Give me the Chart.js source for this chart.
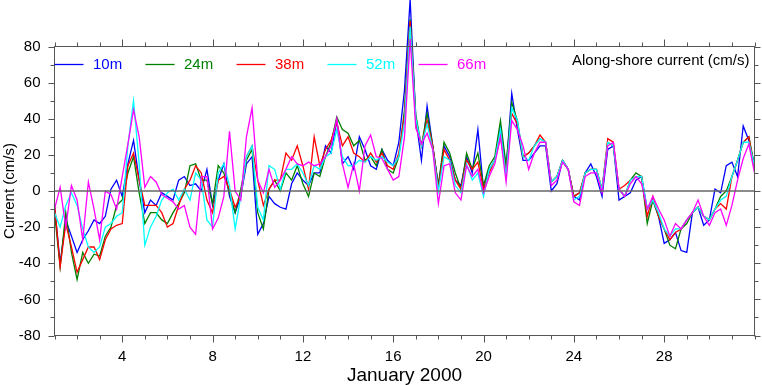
<!DOCTYPE html>
<html><head><meta charset="utf-8">
<script src="https://cdn.jsdelivr.net/npm/chart.js@4.4.1/dist/chart.umd.min.js"></script>
<style>html,body{margin:0;padding:0;background:#fff;overflow:hidden}</style>
</head><body>
<canvas id="c" width="762" height="385" style="display:block;width:762px;height:385px"></canvas>
<script>
// time axis: day of January 2000, every 6 hours
const days = [
 1,1.25,1.5,1.75, 2,2.25,2.5,2.75, 3,3.25,3.5,3.75, 4,4.25,4.5,4.75, 5,5.25,5.5,5.75,
 6,6.25,6.5,6.75, 7,7.25,7.5,7.75, 8,8.25,8.5,8.75, 9,9.25,9.5,9.75, 10,10.25,10.5,10.75,
 11,11.25,11.5,11.75, 12,12.25,12.5,12.75, 13,13.25,13.5,13.75, 14,14.25,14.5,14.75, 15,15.25,15.5,15.75,
 16,16.25,16.5,16.75, 17,17.25,17.5,17.75, 18,18.25,18.5,18.75, 19,19.25,19.5,19.75, 20,20.25,20.5,20.75,
 21,21.25,21.5,21.75, 22,22.25,22.5,22.75, 23,23.25,23.5,23.75, 24,24.25,24.5,24.75, 25,25.25,25.5,25.75,
 26,26.25,26.5,26.75, 27,27.25,27.5,27.75, 28,28.25,28.5,28.75, 29,29.25,29.5,29.75, 30,30.25,30.5,30.75,
 31,31.25,31.5,31.75, 32];

const cur10 = [
 -8,-40,-16,-25, -34,-27,-22,-16, -18,-14,1,6, -3,15,28,6, -12,-5,-8,-1,
 -3,-5,6,8, 3,4,0,12, -8,6,15,-3, -12,-3,15,19, -24,-18,-3,-7,
 -9,-10,4,10, 6,3,10,10, 25,21,39,15, 19,12,30,23, 14,12,23,17,
 14,27,56,106, 40,17,47,25, 3,25,19,6, 3,19,10,34, 1,12,17,36,
 12,54,34,17, 17,21,25,25, 0,4,17,12, -3,-5,10,15, 8,-3,23,25,
 -5,-3,-1,6, 8,-10,-5,-14, -29,-27,-23,-33, -34,-12,-9,-19, -16,1,-1,14,
 16,8,36,28, 14];
const cur24 = [
 -12,-42,-12,-34, -49,-34,-40,-35, -36,-25,-20,-8, -5,10,19,-1, -18,-12,-12,-16,
 -18,-12,-7,-1, 14,15,6,6, -7,14,10,-1, -12,1,17,23, -12,-21,1,6,
 0,10,6,14, 4,-3,10,8, 19,27,41,34, 32,25,28,17, 19,14,23,12,
 10,19,45,95, 42,25,43,25, 3,27,21,10, 1,21,12,21, 3,14,19,39,
 14,49,39,19, 21,25,29,27, 5,8,17,12, -3,-1,10,12, 12,1,27,25,
 1,-3,6,10, 8,-18,-5,-14, -21,-30,-32,-21, -18,-12,-9,-14, -16,-10,-3,0,
 8,17,27,30, 14];
const cur38 = [
 -7,-42,-18,-31, -45,-38,-31,-31, -38,-27,-21,-19, -18,14,21,6, -8,-8,-8,-12,
 -20,-18,-8,1, 6,14,10,-5, -12,6,8,1, -9,-3,19,25, 6,-8,1,6,
 6,21,17,25, 14,1,30,14, 23,28,38,25, 30,21,19,16, 21,16,21,14,
 12,21,42,94, 38,25,39,25, 1,23,17,6, 1,17,12,16, 1,10,17,30,
 10,43,37,19, 21,25,31,27, 5,8,17,12, -3,-1,10,12, 12,1,29,27,
 1,3,6,8, 8,-14,-3,-14, -21,-27,-23,-21, -16,-12,-9,-14, -16,-10,-7,-10,
 8,17,27,30, 12];
const cur52 = [
 -12,-20,-8,-1, -8,-21,-31,-34, -31,-20,-18,-14, -12,25,50,15, -30,-20,-14,-5,
 -1,1,-5,1, -5,10,6,-16, -20,10,15,3, -21,-3,19,25, -9,-16,14,12,
 1,12,12,15, 10,3,14,12, 19,21,34,19, 14,14,17,16, 19,17,19,16,
 14,19,38,91, 40,25,37,23, 0,19,17,3, -1,15,6,10, -3,12,17,34,
 8,46,39,19, 17,25,29,27, 5,8,17,12, -5,-3,10,12, 12,1,27,25,
 1,-3,6,8, 8,-10,-5,-12, -21,-25,-21,-21, -16,-12,-9,-14, -16,-10,-5,-3,
 8,17,27,27, 14];
const cur66 = [
 -10,2,-20,3, -5,-27,5,-10, -27,0,-2,-10, 8,26,45,30, 2,8,5,-2,
 -4,-6,-10,-8, -20,-24,8,8, -21,-15,-3,33, 0,-5,30,46, 6,-1,12,2,
 6,12,19,15, 14,16,14,15, 19,25,40,15, 2,15,0,25, 31,19,18,12,
 6,8,30,84, 35,26,32,23, -7,14,15,-1, -5,14,8,12, -1,8,15,30,
 5,39,34,25, 12,21,27,27, 3,6,16,12, -6,-8,8,10, 10,-1,25,27,
 1,-3,4,8, 4,-10,-3,-10, -16,-25,-18,-21, -16,-12,-5,-14, -19,-12,-10,-19,
 -8,6,18,26, 10];

const seriesNames = ['10m','24m','38m','52m','66m'];
const seriesColors = ['#0000ff','#008000','#ff0000','#00ffff','#ff00ff'];
const seriesValues = [cur10, cur24, cur38, cur52, cur66];
const xTickValues = [4,8,12,16,20,24,28];
const xMinorTicks = [1,2,3,4,5,6,7,8,9,10,11,12,13,14,15,16,17,18,19,20,21,22,23,24,25,26,27,28,29,30,31,32];
const yTickValues = [-80,-60,-40,-20,0,20,40,60,80];
const yMinorTicks = [-80,-70,-60,-50,-40,-30,-20,-10,0,10,20,30,40,50,60,70,80];
const chartTitle = 'Along-shore current (cm/s)';
const xTitle = 'January 2000';
const yTitle = 'Current (cm/s)';

const FONT = 'Liberation Sans, Arial, Helvetica, sans-serif';

const framePlugin = {
  id: 'frame',
  afterDatasetsDraw(chart) {
    const {ctx, chartArea: a, scales: {x, y}} = chart;
    ctx.save();
    // zero line
    const y0 = y.getPixelForValue(0);
    ctx.strokeStyle = '#666'; ctx.lineWidth = 1.6;
    ctx.beginPath(); ctx.moveTo(a.left, y0); ctx.lineTo(a.right, y0); ctx.stroke();
    // frame
    ctx.strokeStyle = '#555'; ctx.lineWidth = 1;
    ctx.strokeRect(a.left, a.top, a.right - a.left, a.bottom - a.top);
    // x ticks (top & bottom, outward)
    ctx.beginPath();
    xMinorTicks.forEach(d => {
      const px = Math.round(x.getPixelForValue(d)) + 0.5;
      const L = xTickValues.includes(d) ? 7 : 4;
      ctx.moveTo(px, a.bottom); ctx.lineTo(px, a.bottom + L);
      ctx.moveTo(px, a.top); ctx.lineTo(px, a.top - L);
    });
    yMinorTicks.forEach(v => {
      const py = Math.round(y.getPixelForValue(v)) + 0.5;
      const L = yTickValues.includes(v) ? 6 : 4;
      ctx.moveTo(a.left, py); ctx.lineTo(a.left - L, py);
      ctx.moveTo(a.right, py); ctx.lineTo(a.right + L, py);
    });
    ctx.stroke();
    // legend
    ctx.font = '15px ' + FONT;
    ctx.textBaseline = 'middle';
    ctx.textAlign = 'left';
    const ly = a.top + 18;
    seriesNames.forEach((n, i) => {
      const x0 = a.left + 91 * i;
      ctx.strokeStyle = seriesColors[i]; ctx.lineWidth = 1.3;
      ctx.beginPath(); ctx.moveTo(x0, ly); ctx.lineTo(x0 + 29, ly); ctx.stroke();
      ctx.fillStyle = seriesColors[i];
      ctx.fillText(n, x0 + 38.5, ly);
    });
    // title
    ctx.fillStyle = '#000';
    ctx.textAlign = 'right';
    ctx.fillText(chartTitle, a.right - 5, a.top + 14);
    ctx.restore();
  }
};

new Chart(document.getElementById('c'), {
  type: 'line',
  data: {
    datasets: seriesNames.map((n, i) => ({
      label: n,
      data: days.map((d, k) => ({x: d, y: seriesValues[i][k]})),
      borderColor: seriesColors[i],
      backgroundColor: seriesColors[i],
      borderWidth: 1.3,
      pointRadius: 0,
      tension: 0,
      clip: false,
      order: 4 - i
    }))
  },
  options: {
    responsive: false,
    animation: false,
    events: [],
    layout: {padding: {top: 46.5, right: 7.5, left: 0, bottom: 0}},
    plugins: {legend: {display: false}, tooltip: {enabled: false}, title: {display: false}},
    scales: {
      x: {
        type: 'linear', min: 1, max: 32, position: 'bottom',
        afterBuildTicks: s => { s.ticks = xTickValues.map(v => ({value: v})); },
        ticks: {autoSkip: false, maxRotation: 0, color: '#000', padding: 12,
                font: {family: FONT, size: 15}, callback: v => String(v)},
        grid: {display: false, drawTicks: false},
        border: {display: false},
        title: {display: true, text: xTitle, color: '#000', padding: 0,
                font: {family: FONT, size: 19, lineHeight: 1}},
        afterFit: s => { s.height = 49.5; }
      },
      y: {
        type: 'linear', min: -80, max: 80,
        afterBuildTicks: s => { s.ticks = yTickValues.map(v => ({value: v})); },
        ticks: {color: '#000', padding: 14, font: {family: FONT, size: 15}},
        grid: {display: false, drawTicks: false},
        border: {display: false},
        title: {display: true, text: yTitle, color: '#000', padding: {top: 2, bottom: 0},
                font: {family: FONT, size: 15, lineHeight: 1}},
        afterFit: s => { s.width = 54.5; }
      }
    }
  },
  plugins: [framePlugin]
});
</script>
</body></html>
